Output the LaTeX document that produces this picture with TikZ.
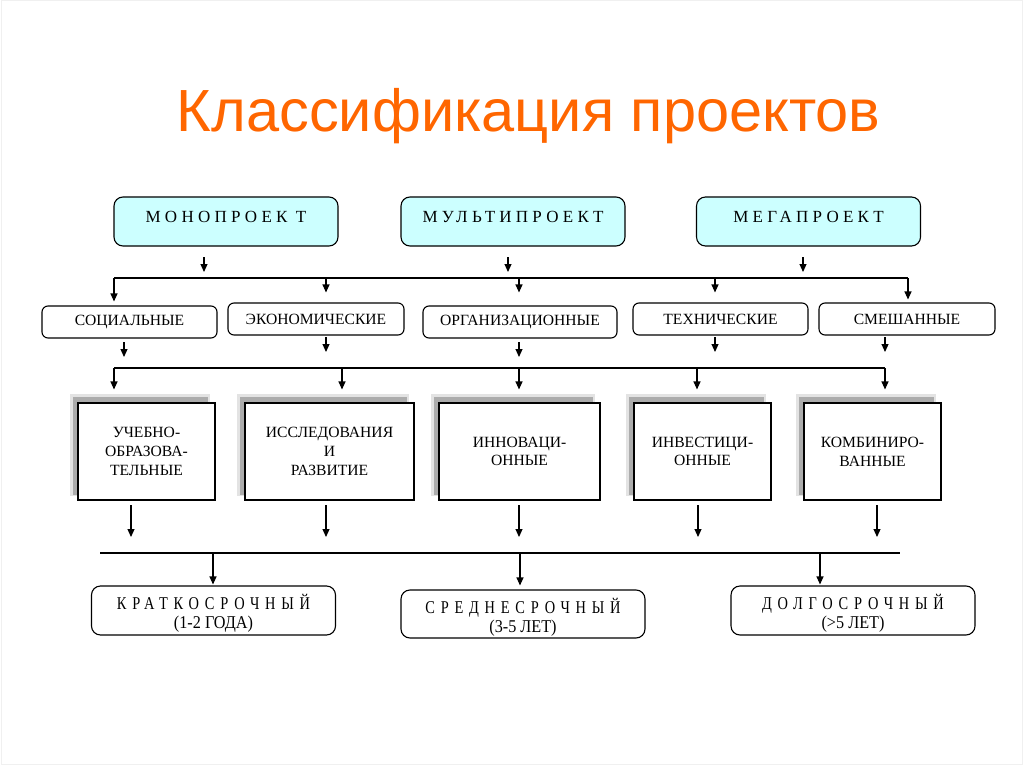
\documentclass[tikz,border=0pt]{standalone}
\usepackage{fontspec}
\setmainfont{Liberation Serif}
\newfontfamily\titlefont{Liberation Sans}
\newfontfamily\spacedfont[LetterSpace=25]{Liberation Serif}
\newfontfamily\bottomfont[LetterSpace=32,FakeStretch=0.8]{Liberation Serif}
\newfontfamily\condfont[FakeStretch=0.9]{Liberation Serif}
\usetikzlibrary{arrows.meta}
\definecolor{titleorange}{RGB}{255,102,0}
\definecolor{topcyan}{RGB}{204,255,255}
\tikzset{
  arr/.style={line width=1.1pt,-{Triangle[length=8pt,width=7pt]}},
  bus/.style={line width=1.1pt},
  topbox/.style={draw,line width=1.1pt,fill=topcyan,rounded corners=9pt,minimum width=224pt,minimum height=49pt,inner sep=0pt,
     font=\spacedfont\fontsize{17}{19}\selectfont,text height=12pt,text depth=10pt},
  midbox/.style={draw,line width=1.1pt,fill=white,rounded corners=6pt,minimum height=32pt,inner sep=0pt,
     font=\fontsize{15.6}{18}\selectfont},
  cardbox/.style={draw,line width=1.1pt,fill=white,minimum width=137pt,minimum height=97pt,inner sep=0pt,align=center,
     font=\fontsize{15.6}{18.8}\selectfont},
  lowbox/.style={draw,line width=1.1pt,fill=white,rounded corners=9pt,minimum width=244pt,minimum height=49pt,inner sep=0pt,align=center,
     font=\fontsize{18}{20}\selectfont},
}
\newcommand{\cardshadow}[4]{%
  \fill[gray!22] (#1-8,#2-9) rectangle (#3-5,#4-4);
  \fill[gray!65] (#1-5,#2-6) rectangle (#3-7,#4-5);
}
\newcommand{\lowtext}[2]{\raisebox{-4pt}[\height][\depth]{\begin{tabular}{@{}c@{}}{\bottomfont #1}\\[-1pt]{\condfont #2}\end{tabular}}}
\begin{document}
\begin{tikzpicture}[x=1pt,y=-1pt]
\useasboundingbox (0,0) rectangle (1024,767);
\fill[white] (0,0) rectangle (1024,767);
\draw[gray!12,line width=1pt] (1,1) rectangle (1022,764);

% title
\node[anchor=base,font=\titlefont\fontsize{59.5}{70}\selectfont,text=titleorange,inner sep=0pt] (title) at (528.5,132) {Классификация проектов};

% top row
\node[topbox] (mono) at (226,221.5) {МОНОПРОЕК Т};
\node[topbox] (multi) at (513,221.5) {МУЛЬТИПРОЕКТ};
\node[topbox] (mega) at (808.5,221.5) {МЕГАПРОЕКТ};

% free arrows below top row
\coordinate (ta1) at (204,257); \coordinate (tb1) at (204,272);
\coordinate (ta2) at (508,257); \coordinate (tb2) at (508,272);
\coordinate (ta3) at (803,257); \coordinate (tb3) at (803,272);
\draw[arr] (ta1) -- (tb1);
\draw[arr] (ta2) -- (tb2);
\draw[arr] (ta3) -- (tb3);

% second row
\node[midbox,minimum width=175pt] (soc) at (129.5,322) {СОЦИАЛЬНЫЕ};
\node[midbox,minimum width=176pt] (eco) at (316,319) {ЭКОНОМИЧЕСКИЕ};
\node[midbox,minimum width=194pt] (org) at (520,322) {ОРГАНИЗАЦИОННЫЕ};
\node[midbox,minimum width=175pt] (tech) at (720.5,319) {ТЕХНИЧЕСКИЕ};
\node[midbox,minimum width=176pt] (mix) at (907,319) {СМЕШАННЫЕ};

% bus 1
\coordinate (b1L) at (114,278); \coordinate (b1R) at (908,278);
\coordinate (b1e) at (326,278); \coordinate (b1o) at (519,278); \coordinate (b1t) at (715,278);
\draw[bus] (b1L) -- (b1R);
\draw[arr,shorten >=4pt] (b1L) -- (b1L |- soc.north);
\draw[arr,shorten >=10pt] (b1e) -- (b1e |- eco.north);
\draw[arr,shorten >=13pt] (b1o) -- (b1o |- org.north);
\draw[arr,shorten >=10pt] (b1t) -- (b1t |- tech.north);
\draw[arr,shorten >=3pt] (b1R) -- (b1R |- mix.north);

% short arrows below second row
\coordinate (sa1) at (124,342); \coordinate (sb1) at (124,357);
\coordinate (sa2) at (326,337); \coordinate (sb2) at (326,352);
\coordinate (sa3) at (519,342); \coordinate (sb3) at (519,357);
\coordinate (sa4) at (715,337); \coordinate (sb4) at (715,352);
\coordinate (sa5) at (885,337); \coordinate (sb5) at (885,352);
\draw[arr] (sa1) -- (sb1);
\draw[arr] (sa2) -- (sb2);
\draw[arr] (sa3) -- (sb3);
\draw[arr] (sa4) -- (sb4);
\draw[arr] (sa5) -- (sb5);

% third row shadows and boxes
\cardshadow{78}{403}{215}{500}
\cardshadow{245}{403}{414}{500}
\cardshadow{439}{403}{600}{500}
\cardshadow{634}{403}{771}{500}
\cardshadow{804}{403}{941}{500}
\node[cardbox] (c1) at (146.5,451.5) {УЧЕБНО-\\ОБРАЗОВА-\\ТЕЛЬНЫЕ};
\node[cardbox,minimum width=169pt] (c2) at (329.5,451.5) {ИССЛЕДОВАНИЯ\\И\\РАЗВИТИЕ};
\node[cardbox,minimum width=161pt] (c3) at (519.5,451.5) {ИННОВАЦИ-\\ОННЫЕ};
\node[cardbox] (c4) at (702.5,451.5) {ИНВЕСТИЦИ-\\ОННЫЕ};
\node[cardbox] (c5) at (872.5,451.5) {КОМБИНИРО-\\ВАННЫЕ};

% bus 2
\coordinate (b2L) at (114,368); \coordinate (b2R) at (885,368);
\coordinate (b2b) at (342,368); \coordinate (b2c) at (519,368); \coordinate (b2d) at (697,368);
\draw[bus] (b2L) -- (b2R);
\draw[arr,shorten >=13pt] (b2L) -- (b2L |- c1.north);
\draw[arr,shorten >=13pt] (b2b) -- (b2b |- c2.north);
\draw[arr,shorten >=13pt] (b2c) -- (b2c |- c3.north);
\draw[arr,shorten >=13pt] (b2d) -- (b2d |- c4.north);
\draw[arr,shorten >=13pt] (b2R) -- (b2R |- c5.north);

% arrows below third row
\coordinate (da1) at (131,505); \coordinate (db1) at (131,537);
\coordinate (da2) at (326,505); \coordinate (db2) at (326,537);
\coordinate (da3) at (519,505); \coordinate (db3) at (519,537);
\coordinate (da4) at (698,505); \coordinate (db4) at (698,537);
\coordinate (da5) at (877,505); \coordinate (db5) at (877,537);
\draw[arr] (da1) -- (db1);
\draw[arr] (da2) -- (db2);
\draw[arr] (da3) -- (db3);
\draw[arr] (da4) -- (db4);
\draw[arr] (da5) -- (db5);

% bottom row
\node[lowbox] (kr) at (213.5,610.5) {\lowtext{КРАТКОСРОЧНЫЙ}{(1-2 ГОДА)}};
\node[lowbox,minimum height=48pt] (sr) at (523,614) {\lowtext{СРЕДНЕСРОЧНЫЙ}{(3-5 ЛЕТ)}};
\node[lowbox] (dl) at (853,610.5) {\lowtext{ДОЛГОСРОЧНЫЙ}{(>5 ЛЕТ)}};

% bus 3
\coordinate (b3L) at (100,553); \coordinate (b3R) at (900,553);
\coordinate (b3k) at (213,553); \coordinate (b3s) at (520,553); \coordinate (b3d) at (820,553);
\draw[bus] (b3L) -- (b3R);
\draw[arr,shorten >=1pt] (b3k) -- (b3k |- kr.north);
\draw[arr,shorten >=4pt] (b3s) -- (b3s |- sr.north);
\draw[arr,shorten >=1pt] (b3d) -- (b3d |- dl.north);
\end{tikzpicture}
\end{document}
